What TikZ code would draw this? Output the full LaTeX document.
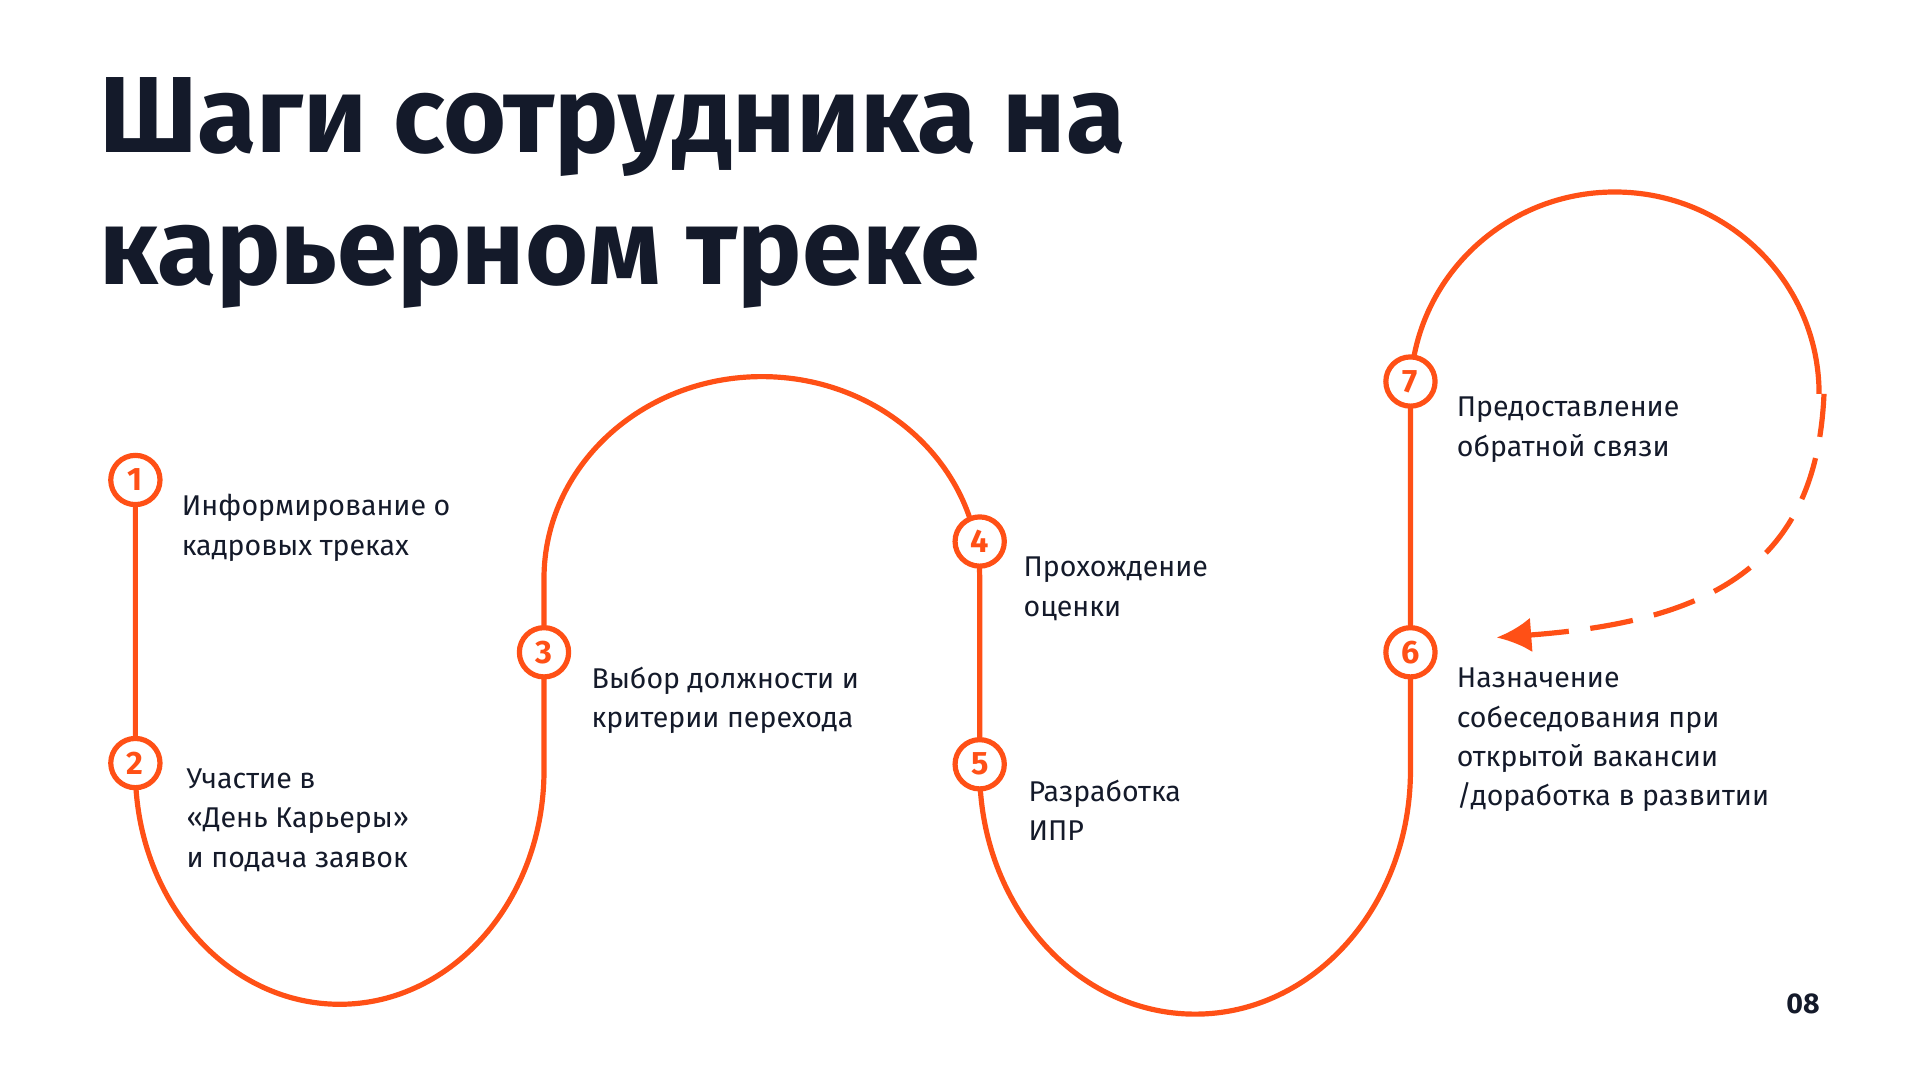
\documentclass[tikz,border=0pt]{standalone}
\usepackage{fontspec}
\setmainfont{Fira Sans}
\usepackage{xcolor}
\usetikzlibrary{arrows.meta}
\definecolor{trackorange}{RGB}{255,80,22}
\definecolor{inkblue}{RGB}{20,26,42}

\tikzset{
  stepdot/.style={circle, draw=trackorange, line width=1.2pt, fill=white, minimum size=0.4cm, inner sep=0pt, text=trackorange, font=\bfseries\fontsize{7.5}{9}\selectfont},
  steptext/.style={anchor=north west, align=left, text=inkblue, inner sep=0pt, font=\fontsize{6.6}{9.1}\selectfont},
  track/.style={trackorange, line width=1.2pt}
}

\begin{document}
\begin{tikzpicture}[x=0.01cm, y=-0.01cm]
        \useasboundingbox (0,0) rectangle (1560,877);

        \node[anchor=north west, inner sep=0pt, text=inkblue, align=left, font=\bfseries\fontsize{25}{30.5}\selectfont] (title) at (80,62) {Шаги сотрудника на\\карьерном треке};

        % the track
        \draw[track] (110,390) -- (110,626) arc[start angle=180, end angle=0, x radius=166, y radius=190]
            -- (442,470) arc[start angle=180, end angle=360, x radius=177, y radius=164]
            -- (796,626) arc[start angle=180, end angle=0, x radius=175, y radius=198]
            -- (1146,320) arc[start angle=180, end angle=360, x radius=166, y radius=164];
        \coordinate (loopend) at (1482,320);
        \coordinate (back) at (1216,518);
        \draw[track, dashed, dash pattern=on 10pt off 5pt, -{Latex[length=8pt, width=8pt]}] (loopend) .. controls (1476,460) and (1390,505) .. (back);

        \foreach \i/\x/\y in {1/110/390, 2/110/620, 3/442/530, 4/796/440, 5/796/621, 6/1146/530, 7/1146/310} {
            \node[stepdot] (s\i) at (\x,\y) {\i};
        }

        \node[steptext] (t1) at (147,401) {Информирование о\\кадровых треках};
        \node[steptext] (t2) at (151,624) {Участие в\\«День Карьеры»\\и подача заявок};
        \node[steptext] (t3) at (480,541) {Выбор должности и\\критерии перехода};
        \node[steptext] (t4) at (831,452) {Прохождение\\оценки};
        \node[steptext] (t5) at (835,633) {Разработка\\ИПР};
        \node[steptext] (t6) at (1183,542) {Назначение\\собеседования при\\открытой вакансии\\/доработка в развитии};
        \node[steptext] (t7) at (1183,322) {Предоставление\\обратной связи};

        \node[text=inkblue, font=\bfseries\fontsize{6.6}{8}\selectfont] (page) at (1465,816) {08};
\end{tikzpicture}
\end{document}
